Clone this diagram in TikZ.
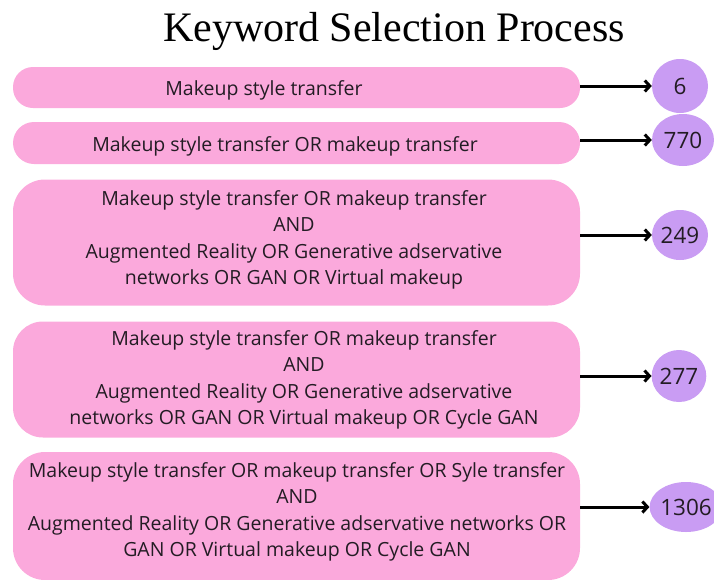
\documentclass[tikz,border=0pt]{standalone}
\usepackage{fontspec}
\setmainfont{Open Sans}
\newfontfamily\titlefont{Liberation Serif}
\usetikzlibrary{shapes.geometric,arrows.meta}
\definecolor{boxpink}{HTML}{FBA9DC}
\definecolor{countviolet}{HTML}{C99CF3}
\definecolor{inktext}{HTML}{231C24}
\tikzset{
  qbox/.style={draw=none, fill=boxpink, inner sep=0pt, minimum width=567pt},
  qtext/.style={text=inktext, font=\fontsize{19.5}{26.5}\selectfont, align=center, inner sep=0pt},
  count/.style={ellipse, draw=none, fill=countviolet, inner sep=0pt, text=inktext,
    font=\fontsize{22.5}{24}\selectfont},
  arr/.style={line width=3pt, -{Straight Barb[length=5pt,width=11pt,line width=3pt]}},
}
\begin{document}
\begin{tikzpicture}[x=1pt,y=-1pt]
\useasboundingbox (0,0) rectangle (714,579);

% heading
\node[text=black, font=\titlefont\fontsize{42}{46}\selectfont] (title) at (394,31) {Keyword Selection Process};

% query boxes
\node[qbox, minimum height=41pt, rounded corners=20pt] (q1) at (296.5,87.5) {};
\node[qbox, minimum height=42pt, rounded corners=21pt] (q2) at (296.5,143) {};
\node[qbox, minimum height=126pt, rounded corners=32pt] (q3) at (296.5,242.5) {};
\node[qbox, minimum height=116pt, rounded corners=30pt] (q4) at (296.5,379.5) {};
\node[qbox, minimum height=128pt, rounded corners=32pt] (q5) at (296.5,516) {};

% query texts
\node[qtext] (t1) at (264,90) {Makeup style transfer};
\node[qtext] (t2) at (285,146) {Makeup style transfer OR makeup transfer};
\node[qtext] (t3) at (294,240) {Makeup style transfer OR makeup transfer\\AND\\Augmented Reality OR Generative adservative\\networks OR GAN OR Virtual makeup};
\node[qtext] (t4) at (304,380) {Makeup style transfer OR makeup transfer\\AND\\Augmented Reality OR Generative adservative\\networks OR GAN OR Virtual makeup OR Cycle GAN};
\node[qtext] (t5) at (297,512) {Makeup style transfer OR makeup transfer OR Syle transfer\\AND\\Augmented Reality OR Generative adservative networks OR\\GAN OR Virtual makeup OR Cycle GAN};

% result counts
\node[count, minimum width=56pt, minimum height=54pt] (n1) at (680,86) {6};
\node[count, minimum width=62pt, minimum height=52pt] (n2) at (683,140) {770};
\node[count, minimum width=56pt, minimum height=50pt] (n3) at (680,235) {249};
\node[count, minimum width=54pt, minimum height=52pt] (n4) at (679,376) {277};
\node[count, minimum width=68pt, minimum height=50pt] (n5) at (686,507) {1306};

% arrows
\draw[arr] (q1.east |- n1.west) -- (n1.west);
\draw[arr] (q2.east |- n2.west) -- (n2.west);
\draw[arr] (q3.east |- n3.west) -- (n3.west);
\draw[arr] (q4.east |- n4.west) -- (n4.west);
\draw[arr] (q5.east |- n5.west) -- (n5.west);
\end{tikzpicture}
\end{document}
